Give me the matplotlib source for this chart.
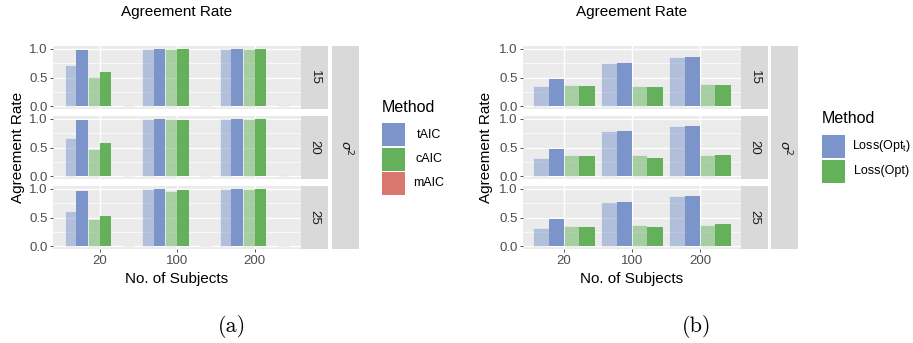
import matplotlib
matplotlib.use("Agg")
import matplotlib.pyplot as plt
from matplotlib.patches import Rectangle
import numpy as np

plt.rcParams["font.family"] = ["Liberation Sans", "DejaVu Sans"]

# Data
subjects = ["20", "100", "200"]
sigma2 = ["15", "20", "25"]

# panel (a): rows = sigma^2, cols = subjects
tAIC_light = [[0.72, 1.00, 1.00], [0.665, 1.00, 1.00], [0.61, 1.00, 1.00]]
tAIC = [[0.98, 1.00, 1.00], [0.98, 1.00, 1.00], [0.965, 1.00, 1.00]]
cAIC_light = [[0.505, 1.00, 1.00], [0.48, 1.00, 1.00], [0.48, 0.97, 1.00]]
cAIC = [[0.595, 1.00, 1.00], [0.575, 0.98, 1.00], [0.52, 0.98, 1.00]]
mAIC_light = [[0.01, 0.01, 0.01], [0.01, 0.01, 0.01], [0.01, 0.01, 0.01]]
mAIC = [[0.012, 0.012, 0.012], [0.012, 0.012, 0.012], [0.012, 0.012, 0.012]]

# panel (b)
lossT_light = [[0.355, 0.75, 0.86], [0.325, 0.79, 0.875], [0.31, 0.77, 0.875]]
lossT = [[0.47, 0.75, 0.86], [0.47, 0.79, 0.875], [0.47, 0.77, 0.875]]
loss_light = [[0.365, 0.355, 0.38], [0.37, 0.375, 0.365], [0.36, 0.365, 0.365]]
loss = [[0.345, 0.33, 0.365], [0.345, 0.31, 0.365], [0.33, 0.33, 0.38]]

BLUE = "#7b95ca"
GREEN = "#65b05a"
RED = "#d9766d"

W, H = 913, 343
fig = plt.figure(figsize=(W / 100, H / 100), dpi=100)


def px_axes(x0, y0, x1, y1):
    return fig.add_axes([x0 / W, 1 - y1 / H, (x1 - x0) / W, (y1 - y0) / H])


def draw_facet(panel_x, strip_x, outer_x, series, colors, alphas, center):
    rows = [(46, 109), (116, 179), (186, 249)]
    n = len(series)
    bw = 0.9 / n
    offsets = (np.arange(n) - (n - 1) / 2) * bw
    xs = np.arange(1, len(subjects) + 1)
    for r, (y0, y1) in enumerate(rows):
        ax = px_axes(panel_x[0], y0, panel_x[1], y1)
        ax.set_facecolor("#ebebeb")
        ax.set_xlim(0.4, 3.6)
        ax.set_ylim(-0.05, 1.05)
        for v in [0.25, 0.75]:
            ax.axhline(v, color="white", lw=0.5, zorder=0.5)
        for v in [0, 0.5, 1.0]:
            ax.axhline(v, color="white", lw=1.0, zorder=0.5)
        for v in xs:
            ax.axvline(v, color="white", lw=1.0, zorder=0.5)
        for k in range(n):
            vals = series[k][r]
            ec = (1, 1, 1, 0.35) if alphas[k] < 1 else "none"
            ax.bar(xs + offsets[k], vals, width=bw, color=colors[k],
                   alpha=alphas[k], edgecolor=ec, lw=0.6, zorder=2)
        for s in ax.spines.values():
            s.set_visible(False)
        ax.set_yticks([0, 0.5, 1.0])
        ax.set_yticklabels(["0.0", "0.5", "1.0"])
        ax.set_xticks(xs)
        ax.tick_params(axis="both", colors="#333333", length=2.5, width=0.6,
                       labelsize=9.5, labelcolor="#4d4d4d", pad=1.5)
        if r < 2:
            ax.tick_params(axis="x", length=0, labelbottom=False)
        else:
            ax.set_xticklabels(subjects)
        # strip
        sax = px_axes(strip_x[0], y0, strip_x[1], y1)
        sax.set_facecolor("#d9d9d9")
        sax.set_xticks([])
        sax.set_yticks([])
        for s in sax.spines.values():
            s.set_visible(False)
        sax.text(0.5, 0.5, sigma2[r], rotation=-90, ha="center", va="center",
                 fontsize=9.5, color="#1a1a1a", transform=sax.transAxes)
    oax = px_axes(outer_x[0], 46, outer_x[1], 249)
    oax.set_facecolor("#d9d9d9")
    oax.set_xticks([])
    oax.set_yticks([])
    for s in oax.spines.values():
        s.set_visible(False)
    oax.text(0.5, 0.5, r"$\sigma^2$", rotation=-90, ha="center", va="center",
             fontsize=9.5, color="#1a1a1a", transform=oax.transAxes)
    cx = (panel_x[0] + panel_x[1]) / 2
    fig.text(center / W, 1 - 12 / H, "Agreement Rate", ha="center", va="center", fontsize=11)
    fig.text(cx / W, 1 - 279 / H, "No. of Subjects", ha="center", va="center", fontsize=11)


def draw_legend(x, y_title, labels, colors, label_cx):
    fig.text(x / W, 1 - y_title / H, "Method", ha="left", va="center", fontsize=11.5)
    y = y_title + 16
    for lab, c in zip(labels, colors):
        fig.add_artist(Rectangle((x / W, 1 - (y + 23) / H), 23 / W, 23 / H,
                                 transform=fig.transFigure, facecolor=c, edgecolor="none"))
        fig.text(label_cx / W, 1 - (y + 11.5) / H, lab, ha="center", va="center", fontsize=9)
        y += 24.5


draw_facet((53, 301), (301, 328), (332, 359),
           [tAIC_light, tAIC, cAIC_light, cAIC, mAIC_light, mAIC],
           [BLUE, BLUE, GREEN, GREEN, RED, RED],
           [0.5, 1, 0.5, 1, 0.25, 0.35], 177)
fig.text(18 / W, 1 - 147 / H, "Agreement Rate", rotation=90, ha="center", va="center", fontsize=11)
draw_legend(382, 107, ["tAIC", "cAIC", "mAIC"], [BLUE, GREEN, RED], 429)

draw_facet((523, 741), (741, 768), (771, 798),
           [lossT_light, lossT, loss_light, loss],
           [BLUE, BLUE, GREEN, GREEN],
           [0.5, 1, 0.5, 1], 632)
fig.text(486 / W, 1 - 147 / H, "Agreement Rate", rotation=90, ha="center", va="center", fontsize=11)
draw_legend(822, 119, [r"Loss(Opt$_{\mathregular{t}}$)", "Loss(Opt)"], [BLUE, GREEN], 882)

fig.text(232 / W, 1 - 326 / H, "(a)", ha="center", va="center", fontsize=16, family="cmr10")
fig.text(697 / W, 1 - 326 / H, "(b)", ha="center", va="center", fontsize=16, family="cmr10")

fig.savefig("out.png", dpi=100)
